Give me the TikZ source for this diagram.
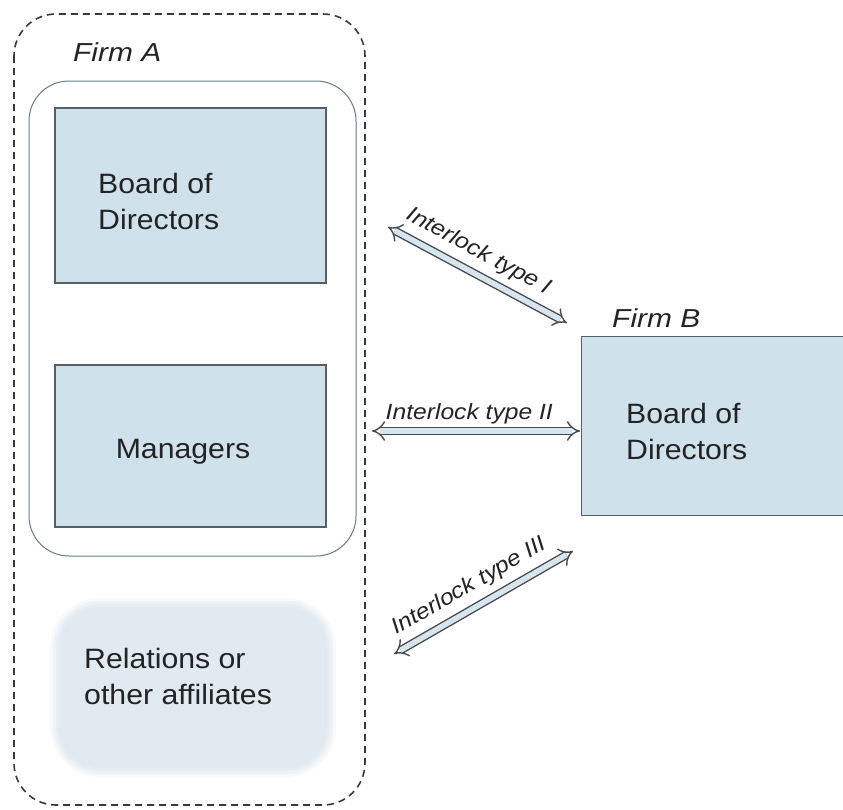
\documentclass[tikz,border=0pt]{standalone}
\usepackage{fontspec}
\setmainfont{Liberation Sans}
\usetikzlibrary{arrows.meta}
\definecolor{boxfill}{RGB}{207,225,234}
\definecolor{boxline}{RGB}{85,95,100}
\definecolor{innerline}{RGB}{100,125,140}
\definecolor{softfill}{RGB}{222,232,239}
\definecolor{arrowgray}{RGB}{70,75,80}
\definecolor{dashgray}{RGB}{55,58,62}
\definecolor{arrowfill}{RGB}{215,230,238}
\definecolor{txt}{RGB}{35,35,35}
\begin{document}
\begin{tikzpicture}[x=1pt,y=-1pt,
  bluebox/.style={draw=boxline, line width=1.3pt, fill=boxfill, inner sep=0pt},
  boxtext/.style={text=txt, font=\fontsize{28}{36}\selectfont, align=left, inner sep=0pt, xscale=1.08},
  firmlab/.style={text=txt, font=\fontsize{26}{30}\selectfont\itshape, inner sep=0pt, xscale=1.15},
  lab/.style={text=txt, font=\fontsize{22}{24}\selectfont\itshape, inner sep=0pt, xscale=1.12},
  dbl/.style={draw=arrowgray, line width=1.4pt, double=arrowfill, double distance=5.5pt, {Implies[scale=1.2]}-{Implies[scale=1.2]}}
]
\useasboundingbox (0,0) rectangle (843,809);

% Firm A outer dashed boundary
\draw[draw=dashgray, line width=1.6pt, dash pattern=on 7pt off 5pt, rounded corners=42pt] (14,14) rectangle (365,805);
\node[firmlab, anchor=west] (firmA) at (73,52) {Firm A};

% inner rounded container
\draw[draw=innerline, line width=1pt, rounded corners=40pt] (29,81) rectangle (356,556);

% Board of Directors (Firm A)
\node[bluebox, minimum width=271pt, minimum height=175pt] (bodA) at (190.5,195.5) {};
\node[boxtext, anchor=west] (bodAtext) at (98,201) {Board of\\Directors};

% Managers
\node[bluebox, minimum width=271pt, minimum height=162pt] (mgr) at (190.5,446) {};
\node[boxtext] (mgrtext) at (183,452) {Managers};

% Relations
\foreach \o/\r in {0.25/0, 0.35/3, 0.5/6, 0.7/9}{
  \fill[softfill, opacity=\o, rounded corners={50pt-\r pt}] (50+\r,598+\r) rectangle (336-\r,777-\r);
}
\node[inner sep=0pt, minimum width=286pt, minimum height=179pt] (rel) at (193,687.5) {};
\node[boxtext, anchor=west] (reltext) at (84,676) {Relations or\\other affiliates};

% Firm B
\node[fill=boxfill, inner sep=0pt, minimum width=261pt, minimum height=178pt] (bodB) at (712.5,426) {};
\draw[boxline, line width=1.3pt] (bodB.north east) -- (bodB.north west) -- (bodB.south west) -- (bodB.south east);
\node[firmlab, anchor=west] (firmB) at (612,318) {Firm B};
\node[boxtext, anchor=west] (bodBtext) at (626,431) {Board of\\Directors};

% arrow ends
\coordinate (i1) at (388,227);
\coordinate (i2) at (567,323);
\coordinate (ii1) at (372,431);
\coordinate (ii2) at (580,431);
\coordinate (iii1) at (394,654);
\coordinate (iii2) at (573,551);

\draw[dbl] (i1) -- node[lab, sloped, above=10pt, xshift=-9pt] {Interlock type I} (i2);
\draw[dbl] (ii1) -- node[lab, above=17pt, xshift=-6pt, anchor=center] {Interlock type II} (ii2);
\draw[dbl] (iii1) -- node[lab, sloped, above=10pt, xshift=-4pt] {Interlock type III} (iii2);
\end{tikzpicture}
\end{document}
